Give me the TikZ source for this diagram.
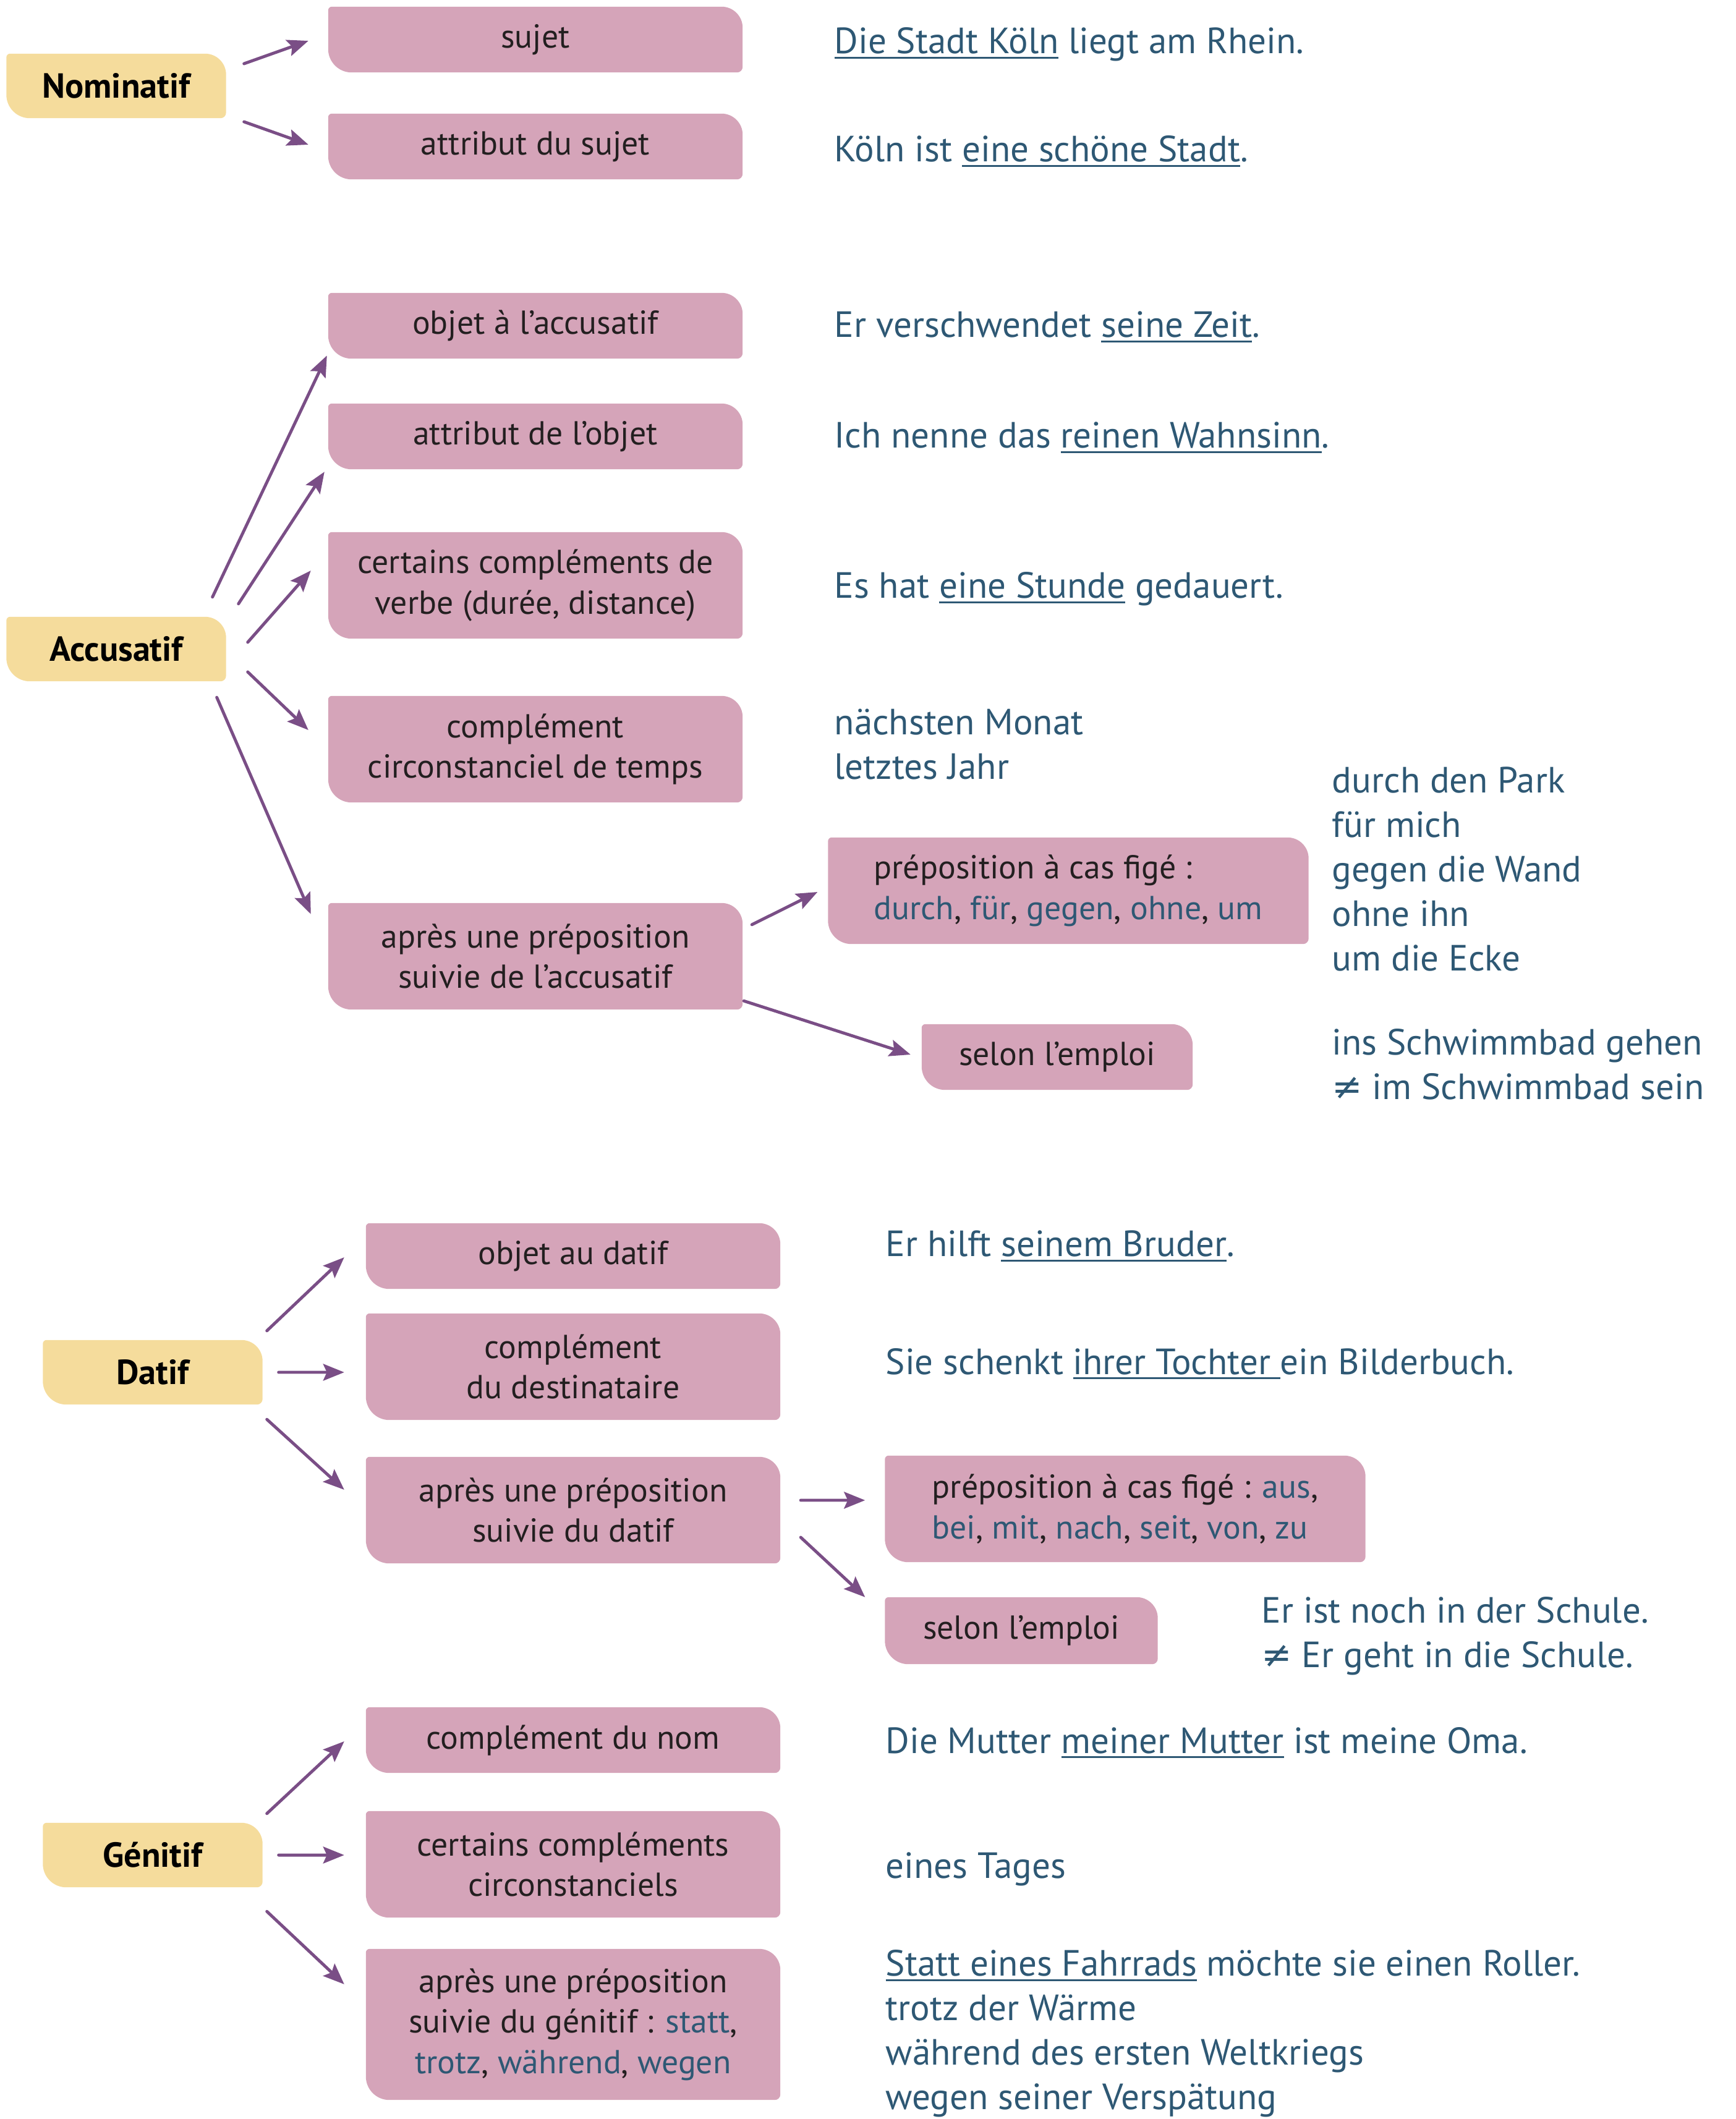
\documentclass[tikz,border=0pt]{standalone}
\usepackage{fontspec}
\setmainfont{PT Sans}
\newfontfamily\symfont{DejaVu Sans}
\usetikzlibrary{arrows.meta}
\pgfdeclarelayer{background}
\pgfsetlayers{background,main}

\definecolor{casefill}{HTML}{F5DC9C}
\definecolor{leaffill}{HTML}{D5A4B9}
\definecolor{arrowcol}{HTML}{7A4E86}
\definecolor{deblue}{HTML}{2E5874}
\definecolor{boxtext}{HTML}{231F20}
\newcommand{\dw}[1]{\textcolor{deblue}{#1}}
\newsavebox{\ubox}
\newcommand{\uword}[1]{\sbox{\ubox}{#1}\rlap{\rule[-2.3pt]{\wd\ubox}{0.9pt}}\usebox{\ubox}}

\begin{document}
\begin{tikzpicture}[line cap=round,line join=round,
  every node/.style={inner sep=0pt},
  casebox/.style={minimum width=3.54cm,minimum height=1.03cm,text=black,font=\fontsize{16}{19}\selectfont\bfseries},
  leaf/.style={minimum width=6.69cm,minimum height=1.05cm,align=center,text=boxtext,font=\fontsize{15.3}{18.6}\selectfont},
  leaftwo/.style={leaf,minimum height=1.71cm},
  fixed/.style={leaftwo,align=left,minimum width=7.76cm},
  ex/.style={anchor=west,align=left,text=deblue,font=\fontsize{16.8}{20.5}\selectfont},
  arr/.style={draw=arrowcol,line width=1.4pt,-{Stealth[length=0.34cm,width=0.27cm,inset=0.06cm]}}]
  \useasboundingbox (0,0) rectangle (28.08,-34.28);

  % Nominatif
  \node[casebox] (nomi) at (1.88,-1.39) {Nominatif};
  \node[leaf] (sujet) at (8.66,-0.64) {sujet};
  \node[leaf] (attsuj) at (8.66,-2.37) {attribut du sujet};
  \node[ex] (exsuj) at (13.49,-0.72) {\uword{Die Stadt Köln} liegt am Rhein.};
  \node[ex] (exattsuj) at (13.49,-2.45) {Köln ist \uword{eine schöne Stadt}.};
  \draw[arr] ([shift={(0.29,0.36)}]nomi.east) -- ([shift={(-0.32,-0.02)}]sujet.west);
  \draw[arr] ([shift={(0.29,-0.58)}]nomi.east) -- ([shift={(-0.32,0.03)}]attsuj.west);

  % Accusatif
  \node[casebox] (accu) at (1.88,-10.50) {Accusatif};
  \node[leaf] (objacc) at (8.66,-5.27) {objet à l’accusatif};
  \node[leaf] (attobj) at (8.66,-7.06) {attribut de l’objet};
  \node[leaftwo] (duree) at (8.66,-9.47) {certains compléments de\\verbe (durée, distance)};
  \node[leaftwo] (temps) at (8.66,-12.12) {complément\\circonstanciel de temps};
  \node[leaftwo] (prepacc) at (8.66,-15.47) {après une préposition\\suivie de l’accusatif};
  \node[fixed] (figeacc) at (17.28,-14.41) {préposition à cas figé :\\\dw{durch}, \dw{für}, \dw{gegen}, \dw{ohne}, \dw{um}};
  \node[leaf,minimum width=4.37cm] (selonacc) at (17.10,-17.10) {selon l’emploi};
  \node[ex] (exobjacc) at (13.49,-5.29) {Er verschwendet \uword{seine Zeit}.};
  \node[ex] (exattobj) at (13.49,-7.08) {Ich nenne das \uword{reinen Wahnsinn}.};
  \node[ex] (exduree) at (13.49,-9.53) {Es hat \uword{eine Stunde} gedauert.};
  \node[ex] (extemps) at (13.49,-12.04) {nächsten Monat\\letztes Jahr};
  \node[ex] (exfigeacc) at (21.54,-14.06) {durch den Park\\für mich\\gegen die Wand\\ohne ihn\\um die Ecke};
  \node[ex] (exselonacc) at (21.54,-17.22) {ins Schwimmbad gehen\\{\symfont ≠} im Schwimmbad sein};
  \draw[arr] ([shift={(-0.22,0.32)}]accu.north east) -- ([shift={(-0.02,0.05)}]objacc.south west);
  \draw[arr] ([shift={(0.20,0.21)}]accu.north east) -- ([shift={(-0.06,-0.04)}]attobj.south west);
  \draw[arr] ([shift={(0.35,0.11)}]accu.east) -- ([shift={(-0.28,0.24)}]duree.west);
  \draw[arr] ([shift={(0.35,-0.37)}]accu.east) -- ([shift={(-0.32,0.31)}]temps.west);
  \draw[arr] ([shift={(-0.15,-0.26)}]accu.south east) -- ([shift={(-0.28,-0.18)}]prepacc.north west);
  \draw[arr] ([shift={(0.15,-0.35)}]prepacc.north east) -- ([shift={(-0.17,-0.02)}]figeacc.west);
  \draw[arr] ([shift={(0.02,0.14)}]prepacc.south east) -- ([shift={(-0.18,0.04)}]selonacc.west);

  % Datif
  \node[casebox] (dati) at (2.47,-22.20) {Datif};
  \node[leaf] (objdat) at (9.27,-20.32) {objet au datif};
  \node[leaftwo] (dest) at (9.27,-22.11) {complément\\du destinataire};
  \node[leaftwo] (prepdat) at (9.27,-24.43) {après une préposition\\suivie du datif};
  \node[fixed] (figedat) at (18.20,-24.41) {préposition à cas figé : \dw{aus},\\\dw{bei}, \dw{mit}, \dw{nach}, \dw{seit}, \dw{von}, \dw{zu}};
  \node[leaf,minimum width=4.40cm,minimum height=1.07cm] (selondat) at (16.52,-26.38) {selon l’emploi};
  \node[ex] (exobjdat) at (14.32,-20.16) {Er hilft \uword{seinem Bruder}.};
  \node[ex] (exdest) at (14.32,-22.06) {Sie schenkt \uword{ihrer Tochter\ }ein Bilderbuch.};
  \node[ex] (exselondat) at (20.40,-26.47) {Er ist noch in der Schule.\\{\symfont ≠} Er geht in die Schule.};
  \draw[arr] ([shift={(0.07,0.15)}]dati.north east) -- ([shift={(-0.35,-0.02)}]objdat.west);
  \draw[arr] ([shift={(0.26,0)}]dati.east) -- ([shift={(-0.35,-0.09)}]dest.west);
  \draw[arr] ([shift={(0.07,-0.24)}]dati.south east) -- ([shift={(-0.35,0.33)}]prepdat.west);
  \draw[arr] ([shift={(0.33,0.16)}]prepdat.east) -- ([shift={(-0.32,0.14)}]figedat.west);
  \draw[arr] ([shift={(0.33,-0.44)}]prepdat.east) -- ([shift={(-0.32,0)}]selondat.north west);

  % Génitif
  \node[casebox] (geni) at (2.47,-30.01) {Génitif};
  \node[leaf] (cnom) at (9.27,-28.15) {complément du nom};
  \node[leaftwo] (circ) at (9.27,-30.16) {certains compléments\\circonstanciels};
  \node[leaftwo,minimum height=2.43cm] (prepgen) at (9.27,-32.75) {après une préposition\\suivie du génitif : \dw{statt},\\\dw{trotz}, \dw{während}, \dw{wegen}};
  \node[ex] (excnom) at (14.32,-28.19) {Die Mutter \uword{meiner Mutter} ist meine Oma.};
  \node[ex] (excirc) at (14.32,-30.24) {eines Tages};
  \node[ex] (exprepgen) at (14.32,-32.90) {\uword{Statt eines Fahrrads} möchte sie einen Roller.\\trotz der Wärme\\während des ersten Weltkriegs\\wegen seiner Verspätung};
  \draw[arr] ([shift={(0.07,0.15)}]geni.north east) -- ([shift={(-0.35,-0.02)}]cnom.west);
  \draw[arr] ([shift={(0.26,0)}]geni.east) -- ([shift={(-0.35,0.15)}]circ.west);
  \draw[arr] ([shift={(0.07,-0.39)}]geni.south east) -- ([shift={(-0.35,0.65)}]prepgen.west);

  % box backgrounds
  \begin{pgfonlayer}{background}
    \foreach \bx/\col in {nomi/casefill,accu/casefill,dati/casefill,geni/casefill,
      sujet/leaffill,attsuj/leaffill,objacc/leaffill,attobj/leaffill,duree/leaffill,
      temps/leaffill,prepacc/leaffill,figeacc/leaffill,selonacc/leaffill,
      objdat/leaffill,dest/leaffill,prepdat/leaffill,figedat/leaffill,selondat/leaffill,
      cnom/leaffill,circ/leaffill,prepgen/leaffill} {
      \fill[\col] ([xshift=0.06cm]\bx.north west) -- ([xshift=-0.34cm]\bx.north east)
        arc[start angle=90,end angle=0,radius=0.34cm] -- ([yshift=0.09cm]\bx.south east)
        arc[start angle=0,end angle=-90,radius=0.09cm] -- ([xshift=0.38cm]\bx.south west)
        arc[start angle=270,end angle=180,radius=0.38cm] -- ([yshift=-0.06cm]\bx.north west)
        arc[start angle=180,end angle=90,radius=0.06cm] -- cycle;
    }
  \end{pgfonlayer}
\end{tikzpicture}
\end{document}
